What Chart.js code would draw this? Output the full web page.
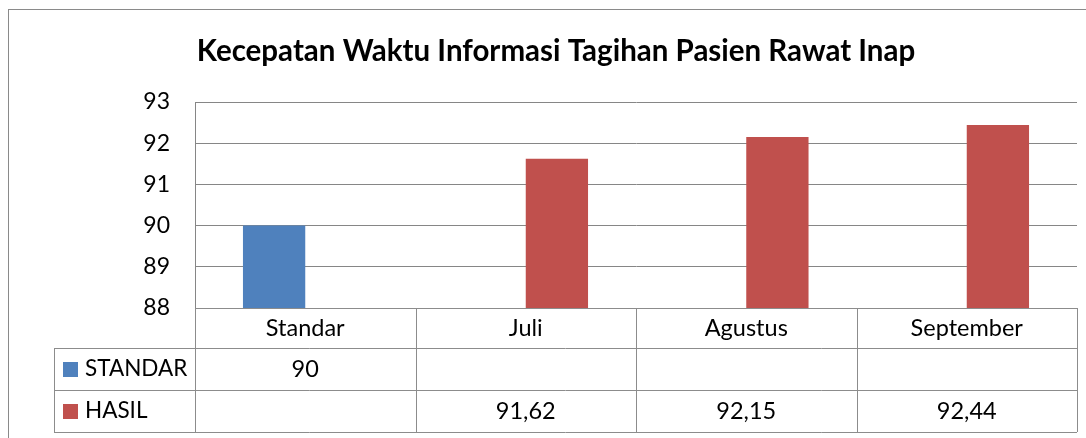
<!DOCTYPE html>
<html>
<head>
<meta charset="utf-8">
<script src="https://cdn.jsdelivr.net/npm/chart.js@4"></script>
<style>
  body { margin: 0; background: #fff; }
  #wrap { width: 1086px; height: 438px; }
</style>
</head>
<body>
<div id="wrap"><canvas id="chart" width="1086" height="438"></canvas></div>
<script>
const categories = ["Standar", "Juli", "Agustus", "September"];
const standarValues = [90, null, null, null];
const hasilValues = [null, 91.62, 92.15, 92.44];
const seriesNames = ["STANDAR", "HASIL"];
const yTicks = [88, 89, 90, 91, 92, 93];
const titleText = "Kecepatan Waktu Informasi Tagihan Pasien Rawat Inap";

const FONT = "Lato";
const colors = ["#4F81BD", "#C0504D"];

function fmt(v) {
  if (v === null) return "";
  return String(v).replace(".", ",");
}

// draws the outer frame, the title and the data table below the plot
const tablePlugin = {
  id: "dataTable",
  beforeDraw(chart) {
    const ctx = chart.ctx;
    ctx.save();
    ctx.strokeStyle = "#8a8a8a";
    ctx.lineWidth = 1;
    ctx.strokeRect(8.5, 9.5, 1200, 600);
    ctx.fillStyle = "#000";
    ctx.font = "bold 29.5px " + FONT;
    ctx.textAlign = "center";
    ctx.textBaseline = "middle";
    ctx.fillText(titleText, 556, 51);
    ctx.restore();
  },
  afterDraw(chart) {
    const ctx = chart.ctx;
    const x = chart.scales.x;
    const area = chart.chartArea;
    const rowH = [40, 42, 42];
    const top = area.bottom;
    const r1 = top + rowH[0], r2 = r1 + rowH[1], r3 = r2 + rowH[2];
    const leftCol = 54;
    const n = categories.length;
    const colW = (area.right - area.left) / n;

    ctx.save();
    ctx.strokeStyle = "#8c8c8c";
    ctx.lineWidth = 1;
    ctx.beginPath();
    // horizontal lines
    ctx.moveTo(area.left, Math.round(top) + 0.5); ctx.lineTo(area.right, Math.round(top) + 0.5);
    [r1, r2, r3].forEach(y => {
      ctx.moveTo(leftCol, Math.round(y) + 0.5); ctx.lineTo(area.right, Math.round(y) + 0.5);
    });
    // vertical lines
    for (let i = 0; i <= n; i++) {
      const vx = Math.round(area.left + colW * i) + 0.5;
      ctx.moveTo(vx, top); ctx.lineTo(vx, r3);
    }
    ctx.moveTo(leftCol + 0.5, r1); ctx.lineTo(leftCol + 0.5, r3);
    ctx.stroke();

    ctx.fillStyle = "#000";
    ctx.font = "23.5px " + FONT;
    ctx.textAlign = "center";
    ctx.textBaseline = "middle";
    categories.forEach((c, i) => {
      const cx = x.getPixelForValue(i);
      ctx.fillText(c, cx, (top + r1) / 2);
      ctx.fillText(fmt(standarValues[i]), cx, (r1 + r2) / 2);
      ctx.fillText(fmt(hasilValues[i]), cx, (r2 + r3) / 2);
    });

    // legend keys
    ctx.textAlign = "left";
    ctx.font = "22.5px " + FONT;
    [[r1, r2], [r2, r3]].forEach((r, k) => {
      const cy = (r[0] + r[1]) / 2;
      ctx.fillStyle = colors[k];
      ctx.fillRect(63, Math.round(cy) - 7, 15, 15);
      ctx.fillStyle = "#000";
      ctx.fillText(seriesNames[k], 85, cy);
    });
    ctx.restore();
  }
};

new Chart(document.getElementById("chart"), {
  type: "bar",
  data: {
    labels: categories,
    datasets: [
      { label: seriesNames[0], data: standarValues, backgroundColor: colors[0] },
      { label: seriesNames[1], data: hasilValues, backgroundColor: colors[1] }
    ]
  },
  options: {
    responsive: false,
    animation: false,
    categoryPercentage: 0.565,
    barPercentage: 1,
    layout: { padding: { left: 0, top: 102, right: 9, bottom: 130 } },
    plugins: {
      legend: { display: false },
      tooltip: { enabled: false },
      title: { display: false }
    },
    scales: {
      x: { display: false },
      y: {
        min: 88,
        max: 93,
        afterFit(scale) { scale.width = 195; },
        afterBuildTicks(scale) { scale.ticks = yTicks.map(v => ({ value: v })); },
        grid: { color: "#868686", drawTicks: false },
        border: { color: "#868686" },
        ticks: { color: "#000", padding: 25, font: { family: FONT, size: 23 } }
      }
    }
  },
  plugins: [tablePlugin]
});
</script>
</body>
</html>
